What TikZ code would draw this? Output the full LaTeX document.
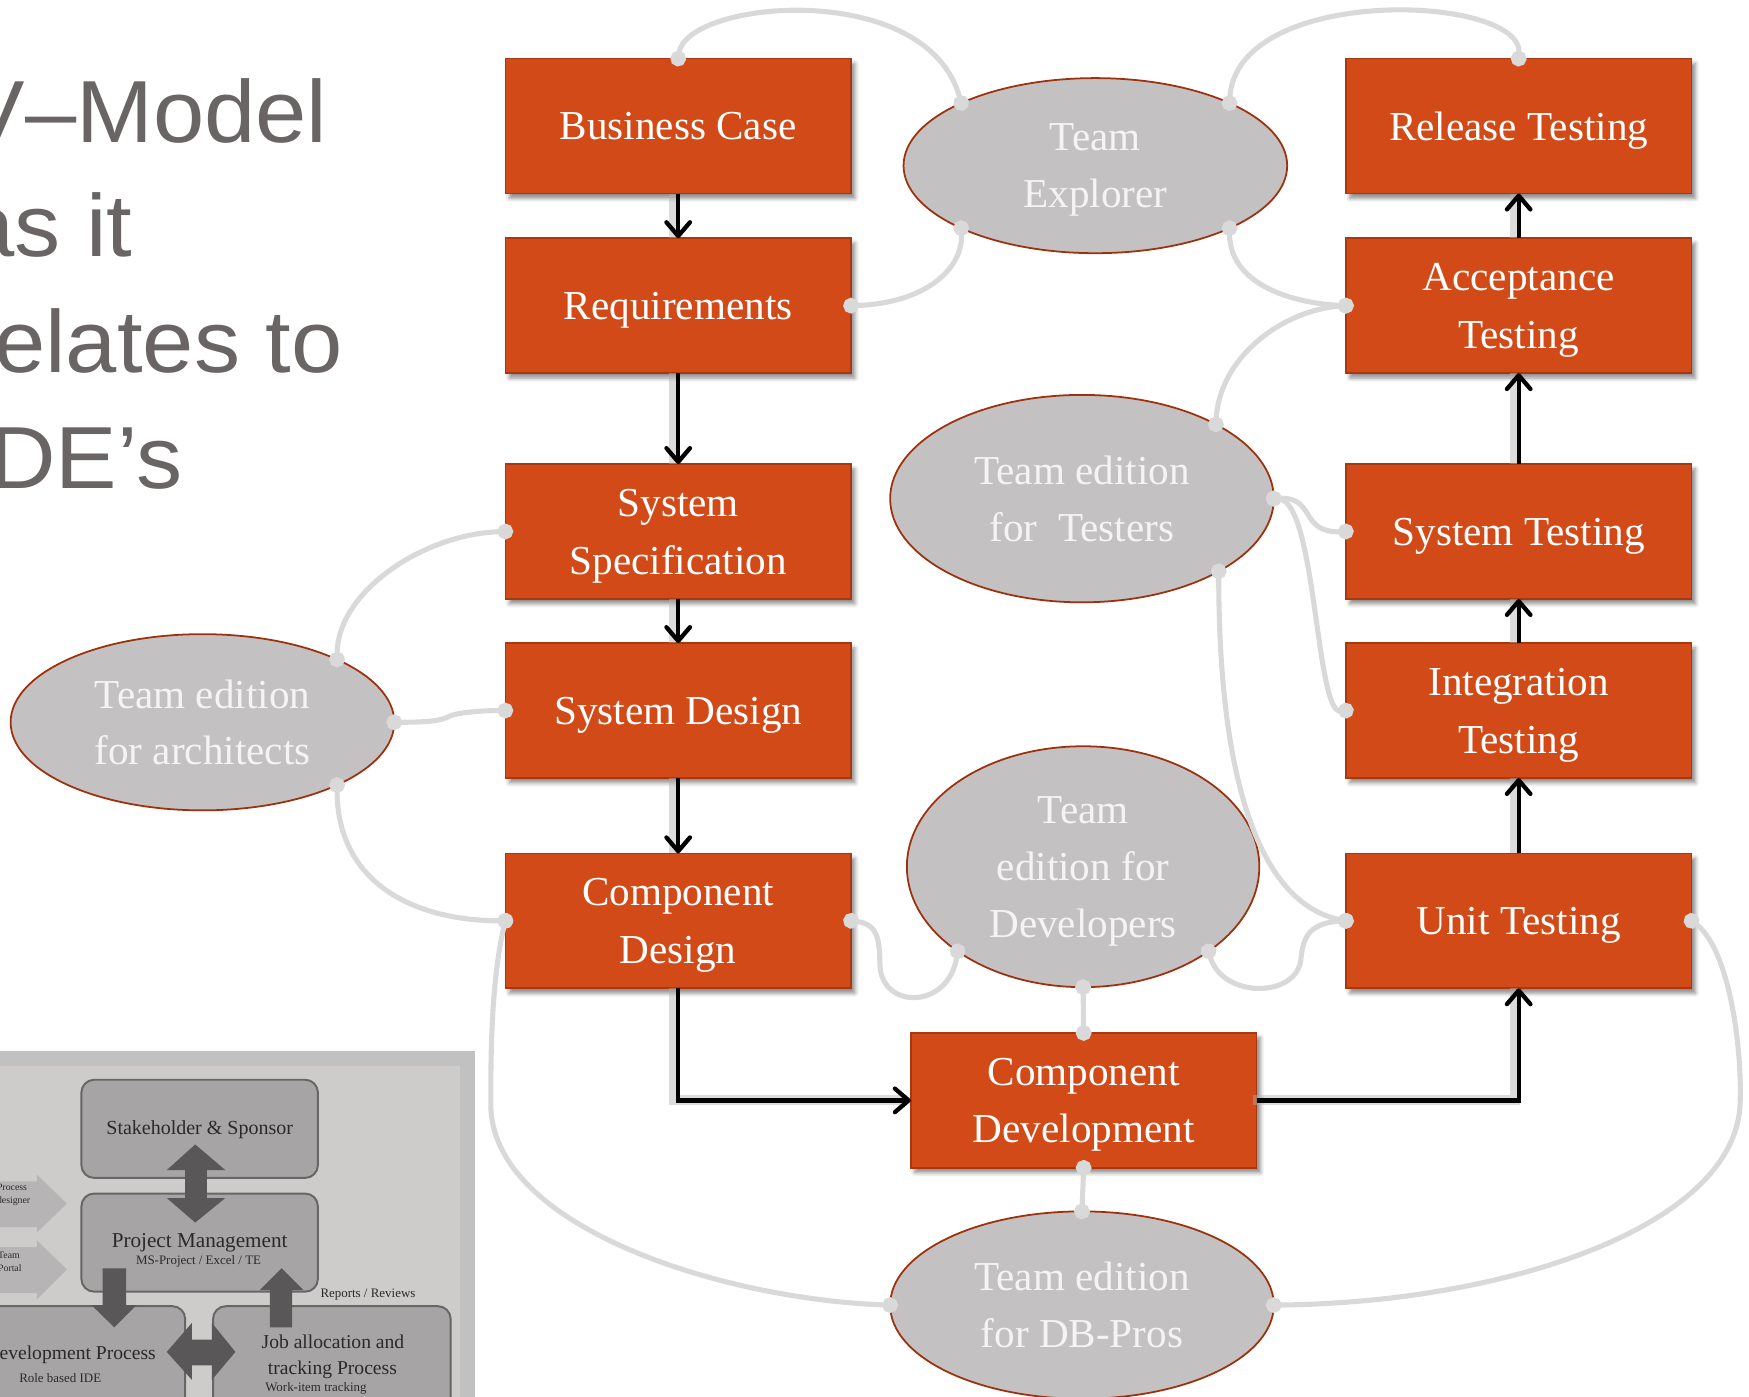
\documentclass[tikz,border=0pt]{standalone}
\usepackage{fontspec}
\setmainfont{Liberation Serif}
\newfontfamily\titlefont{Liberation Sans}[FakeStretch=1.045]
\usetikzlibrary{arrows.meta,shapes.geometric,shadows.blur}
\definecolor{vorange}{HTML}{D24A18}
\definecolor{vborder}{HTML}{A8380F}
\definecolor{egray}{HTML}{C3C1C2}
\definecolor{eborder}{HTML}{9E300C}
\definecolor{lgray}{HTML}{D9D9D9}
\definecolor{titlegray}{HTML}{696565}
\definecolor{etext}{HTML}{F4F4F4}
\definecolor{inouter}{HTML}{C2C1C1}
\definecolor{ininner}{HTML}{CECBCB}
\definecolor{inbox}{HTML}{A6A4A4}
\definecolor{inboxborder}{HTML}{676565}
\definecolor{indark}{HTML}{595757}
\definecolor{inlight}{HTML}{B6B4B4}
\definecolor{intext}{HTML}{2B2929}
\begin{document}
\begin{tikzpicture}[x=0.02cm, y=-0.02cm,
  stepbox/.style={rectangle, fill=vorange, draw=vborder, line width=0.8pt,
    minimum width=6.2cm, minimum height=2.42cm, inner sep=0pt, outer sep=0pt,
    align=center, text=white, text depth=0pt, font=\fontsize{21}{29.5}\selectfont,
    blur shadow={shadow xshift=2pt, shadow yshift=-2.5pt, shadow blur radius=2pt, shadow opacity=45}},
  team/.style={ellipse, fill=egray, draw=eborder, line width=0.9pt, inner sep=0pt, outer sep=0pt,
    align=center, text=etext, text depth=0pt, font=\fontsize{21}{29}\selectfont},
  link/.style={draw=lgray, line width=2.6pt, {Circle[length=8pt]}-{Circle[length=8pt]},
    shorten <=-4pt, shorten >=-4pt},
  flow/.style={draw=black, line width=2.2pt, -{Straight Barb[length=7pt,width=12pt,round]},
    preaction={draw=black!30, line width=5pt, draw opacity=0.45, transform canvas={xshift=-2pt}, -}},
  titletext/.style={anchor=base west, inner sep=0pt, text=titlegray, font=\titlefont\fontsize{45}{54}\selectfont},
  ibox/.style={fill=inbox, draw=inboxborder, line width=1pt, rounded corners=6.5pt},
  itext/.style={inner sep=0pt, text=intext}
]
\useasboundingbox (0,0) rectangle (1568,1252);
\clip (0,0) rectangle (1568,1252);

% title
\node[titletext] (t1) at (-33,128) {V–Model};
\node[titletext] (t2) at (-33,230) {as it};
\node[titletext] (t3) at (-33,334) {relates to};
\node[titletext] (t4) at (-33,438) {IDE’s};

% V-model boxes
\node[stepbox] (bc) at (608,113) {Business Case};
\node[stepbox] (req) at (608,274) {Requirements};
\node[stepbox] (ss) at (608,476.5) {System\\Specification};
\node[stepbox] (sd) at (608,637) {System Design};
\node[stepbox] (cd) at (608,825.5) {Component\\Design};
\node[stepbox] (cdev) at (971.5,986.5) {Component\\Development};
\node[stepbox] (rel) at (1361.5,113) {Release Testing};
\node[stepbox] (acc) at (1361.5,274) {Acceptance\\Testing};
\node[stepbox] (st) at (1361.5,476.5) {System Testing};
\node[stepbox] (it) at (1361.5,637) {Integration\\Testing};
\node[stepbox] (ut) at (1361.5,825.5) {Unit Testing};

% team editions
\node[team, minimum width=6.88cm, minimum height=3.14cm] (te) at (982,148.5) {Team\\Explorer};
\node[team, minimum width=6.88cm, minimum height=3.72cm] (tt) at (970,447) {Team edition\\for\ \ Testers};
\node[team, minimum width=6.88cm, minimum height=3.16cm] (ta) at (181.5,647.5) {Team edition\\for architects};
\node[team, minimum width=6.32cm, minimum height=4.32cm] (td) at (971,777) {Team\\edition for\\Developers};
\node[team, minimum width=6.88cm, minimum height=3.36cm] (tb) at (970,1170) {Team edition\\for DB-Pros};

% flow arrows
\draw[flow] (bc.south) -- (req.north);
\draw[flow] (req.south) -- (ss.north);
\draw[flow] (ss.south) -- (sd.north);
\draw[flow] (sd.south) -- (cd.north);
\draw[flow] (cd.south) |- (cdev.west);
\draw[flow] (cdev.east) -| (ut.south);
\draw[flow] (ut.north) -- (it.south);
\draw[flow] (it.north) -- (st.south);
\draw[flow] (st.north) -- (acc.south);
\draw[flow] (acc.north) -- (rel.south);

% gray links
\draw[link] (bc.north) .. controls +(7,-53) and +(-30,-112) .. (te.155);
\draw[link] (req.east) .. controls +(67,-2) and +(2,36) .. (te.205);
\draw[link] (te.25) .. controls +(6,-107) and +(4,-58) .. (rel.north);
\draw[link] (te.335) .. controls +(0,51) and +(-47,-2) .. (acc.west);
\draw[link] (acc.west) .. controls +(-57,4) and +(3,-60) .. (tt.29);
\draw[link] (tt.east) .. controls +(38,-2) and +(-42,1.5) .. (st.west);
\draw[link] (tt.east) .. controls +(38,3) and +(-27,3) .. (it.west);
\draw[link] (tt.332) .. controls +(0,188) and +(-77,-15) .. (ut.west);
\draw[link] (ut.west) .. controls +(-37,2) and +(2,-17) .. (1166,862) .. controls +(-6,33) and +(12,42) .. (td.326);
\draw[link] (cd.east) .. controls +(27,3) and +(-1,-19) .. (789,867) .. controls +(3,38) and +(-8,52) .. (td.214);
\draw[link] (td.south) -- (cdev.north);
\draw[link] (cdev.south) -- (tb.north);
\draw[link] (cd.west) .. controls +(-13,55) and +(0,-40) .. (440,990) .. controls +(0,110) and +(-150,-5) .. (tb.west);
\draw[link] (ut.east) .. controls +(34,25) and +(2,-50) .. (1560,990) .. controls +(-5,110) and +(207,-2) .. (tb.east);
\draw[link] (ta.25) .. controls +(0,-61) and +(-73,2) .. (ss.west);
\draw[link] (ta.east) .. controls +(31,0) and +(-6,3) .. (401,643) .. controls +(6,-4) and +(-23,0) .. (sd.west);
\draw[link] (ta.335) .. controls +(0,87) and +(-83,0) .. (cd.west);

% inset picture
\fill[inouter] (0,942) rectangle (426,1260);
\fill[ininner] (0,956) rectangle (412,1260);
\fill[inlight] (-10,1059) -- (33,1059) -- (33,1053) -- (60,1079) -- (33,1105) -- (33,1100) -- (-10,1100) -- cycle;
\fill[inlight] (-10,1118) -- (33,1118) -- (33,1112) -- (60,1138) -- (33,1165) -- (33,1159) -- (-10,1159) -- cycle;
\draw[ibox] (73,968) rectangle (285,1056);
\draw[ibox] (73,1070) rectangle (285,1158);
\draw[ibox] (-30,1171) rectangle (166,1290);
\draw[ibox] (191,1171) rectangle (404,1290);
\fill[indark] (175,1026) -- (202,1049) -- (185.5,1049) -- (185.5,1074) -- (202,1074) -- (175,1096)
  -- (149.5,1074) -- (166,1074) -- (166,1049) -- (149.5,1049) -- cycle;
\fill[indark] (149.5,1212) -- (172,1186) -- (172,1201) -- (190,1201) -- (190,1186) -- (211,1212)
  -- (190,1237) -- (190,1224) -- (172,1224) -- (172,1237) -- cycle;
\fill[indark] (92,1137) -- (113,1137) -- (113,1170) -- (122.5,1170) -- (102.5,1190) -- (82,1170) -- (92,1170) -- cycle;
\fill[indark] (242,1190) -- (262,1190) -- (262,1156.5) -- (272,1156.5) -- (252.5,1137) -- (233,1156.5) -- (242,1156.5) -- cycle;
\node[itext, font=\fontsize{10.2}{12}\selectfont] (i1) at (179,1013) {Stakeholder \& Sponsor};
\node[itext, font=\fontsize{10.8}{12}\selectfont] (i2) at (179,1114) {Project Management};
\node[itext, font=\fontsize{6.6}{8}\selectfont] (i3) at (178,1131) {MS-Project / Excel / TE};
\node[itext, anchor=east, font=\fontsize{10}{12}\selectfont] (i4) at (140,1215) {Development Process};
\node[itext, font=\fontsize{6.6}{8}\selectfont] (i5) at (54,1235.5) {Role based IDE};
\node[itext, font=\fontsize{10}{12}\selectfont] (i6) at (298.5,1203) {Job allocation and};
\node[itext, font=\fontsize{10}{12}\selectfont] (i7) at (298,1228) {tracking Process};
\node[itext, anchor=west, font=\fontsize{6.6}{8}\selectfont] (i8) at (237.5,1244.5) {Work-item tracking};
\node[itext, anchor=west, font=\fontsize{6.6}{8}\selectfont] (i9) at (287,1161) {Reports / Reviews};
\node[itext, anchor=west, align=left, font=\fontsize{5}{6.8}\selectfont] (i10) at (-3,1071) {Process\\designer};
\node[itext, anchor=west, align=left, font=\fontsize{5}{6.8}\selectfont] (i11) at (-2,1131) {Team\\Portal};
\end{tikzpicture}
\end{document}
